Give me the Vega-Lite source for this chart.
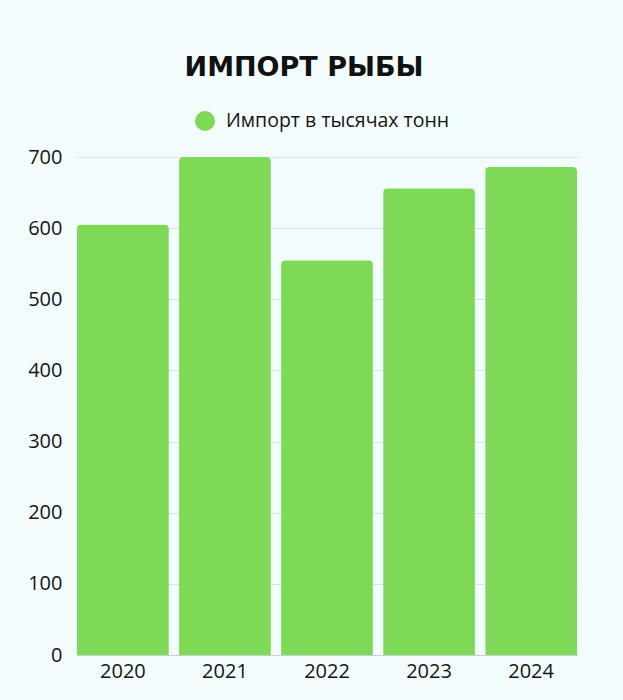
{
  "$schema": "https://vega.github.io/schema/vega-lite/v6.json",
  "width": 500,
  "height": 498,
  "autosize": {"type": "none"},
  "padding": {"left": 77, "top": 157, "right": 46, "bottom": 45},
  "background": "#f3fcfc",
  "title": {
    "text": "ИМПОРТ РЫБЫ",
    "font": "DejaVu Sans",
    "fontSize": 27,
    "fontWeight": 900,
    "color": "#111111",
    "anchor": "middle",
    "dx": -23,
    "offset": 28
  },
  "data": {
    "values": [
      {"year": "2020", "value": 605},
      {"year": "2021", "value": 700},
      {"year": "2022", "value": 555},
      {"year": "2023", "value": 656},
      {"year": "2024", "value": 686}
    ]
  },
  "mark": {"type": "bar", "cornerRadiusTopLeft": 4, "cornerRadiusTopRight": 4},
  "encoding": {
    "x": {
      "field": "year",
      "type": "ordinal",
      "title": null,
      "scale": {"paddingInner": 0.1, "paddingOuter": 0},
      "axis": {"labelAngle": 0, "ticks": false, "labelPadding": 6, "domainColor": "#c9cfd0", "labelFontSize": 20, "labelFont": "Open Sans", "labelColor": "#151515", "grid": false}
    },
    "y": {
      "field": "value",
      "type": "quantitative",
      "title": null,
      "scale": {"domain": [0, 700], "nice": false},
      "axis": {"values": [0, 100, 200, 300, 400, 500, 600, 700], "domain": false, "ticks": false, "labelPadding": 15, "labelFontSize": 20, "labelFont": "Open Sans", "labelColor": "#151515", "gridColor": "#dce2e4"}
    },
    "color": {
      "datum": "Импорт в тысячах тонн",
      "scale": {"range": ["#7ed957"]},
      "legend": {
        "title": null,
        "orient": "none",
        "legendX": 117,
        "legendY": -47,
        "symbolType": "circle",
        "symbolSize": 400,
        "symbolOpacity": 1,
        "labelFontSize": 19.5,
        "labelFont": "Open Sans",
        "labelColor": "#151515",
        "labelOffset": 10,
        "labelLimit": 0
      }
    }
  },
  "config": {"view": {"stroke": null}}
}
